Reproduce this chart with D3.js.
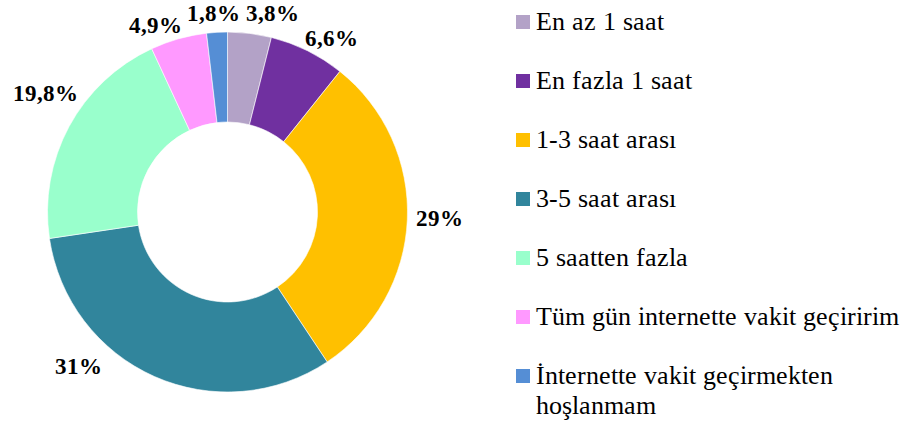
<!DOCTYPE html>
<html><head><meta charset="utf-8">
<script src="https://cdn.jsdelivr.net/npm/d3@7"></script>
<style>html,body{margin:0;padding:0;background:#fff;}
svg{display:block;}
@font-face{font-family:"ChartSerif";font-weight:400;src:local("Liberation Serif"),local("LiberationSerif"),local("LiberationSerif-Regular");}
@font-face{font-family:"ChartSerif";font-weight:700;src:local("Liberation Serif Bold"),local("LiberationSerif-Bold");}
</style>
</head><body>
<svg id="chart" width="915" height="425"></svg>
<script>
// ---- data ----
const categories = ["En az 1 saat","En fazla 1 saat","1-3 saat arası","3-5 saat arası","5 saatten fazla","Tüm gün internette vakit geçiririm","İnternette vakit geçirmekten hoşlanmam"];
const values = [3.8, 6.6, 29, 31, 19.8, 4.9, 1.8];
const valueLabels = ["3,8%","6,6%","29%","31%","19,8%","4,9%","1,8%"];
const colors = ["#B3A2C7","#7030A0","#FFC000","#31859C","#99FFCC","#FF99FF","#558ED5"];
const legendLines = [["En az 1 saat"],["En fazla 1 saat"],["1-3 saat arası"],["3-5 saat arası"],["5 saatten fazla"],["Tüm gün internette vakit geçiririm"],["İnternette vakit geçirmekten","hoşlanmam"]];

// ---- layout ----
const cx = 227.5, cy = 212, outerR = 180, innerR = 90, labelR = 205;
const labelNudge = [[20,5],[13,10],[7,-3],[-66,-33],[-2,-21],[-16,11],[-2,6]];
const FONT = "ChartSerif, 'Liberation Serif', serif";

const svg = d3.select("#chart");
const g = svg.append("g").attr("transform", `translate(${cx},${cy})`);
const data = categories.map((c,i)=>({cat:c, value:values[i], label:valueLabels[i], color:colors[i], i}));
const pie = d3.pie().value(d=>d.value).sort(null);
const arcs = pie(data);
const arc = d3.arc().innerRadius(innerR).outerRadius(outerR);

g.selectAll("path.slice").data(arcs).join("path")
  .attr("class","slice")
  .attr("d", arc)
  .attr("fill", d=>d.data.color)
  .attr("stroke","#fff").attr("stroke-width",0.6);

g.selectAll("text.lbl").data(arcs).join("text")
  .attr("class","lbl")
  .attr("x", d=>{const a=(d.startAngle+d.endAngle)/2; return labelR*Math.sin(a)+labelNudge[d.index][0];})
  .attr("y", d=>{const a=(d.startAngle+d.endAngle)/2; return -labelR*Math.cos(a)+labelNudge[d.index][1];})
  .attr("dy","0.33em")
  .attr("text-anchor","middle")
  .style("font-family", FONT)
  .attr("font-weight","bold")
  .attr("font-size","23px")
  .attr("fill","#000")
  .text(d=>d.data.label);

// legend
const legX = 516, legY0 = 22, legStep = 59, sw = 14;
const leg = svg.append("g");
legendLines.forEach((lines,i)=>{
  const y = legY0 + i*legStep;
  leg.append("rect").attr("x",legX).attr("y",y-sw/2).attr("width",sw).attr("height",sw).attr("fill",colors[i]);
  const t = leg.append("text").attr("x",legX+20).attr("y",y+8)
    .style("font-family", FONT)
    .attr("font-size","26px").attr("fill","#000");
  lines.forEach((ln,j)=>{
    t.append("tspan").attr("x",legX+20).attr("dy", j===0?0:30).text(ln);
  });
});
</script>
</body></html>
